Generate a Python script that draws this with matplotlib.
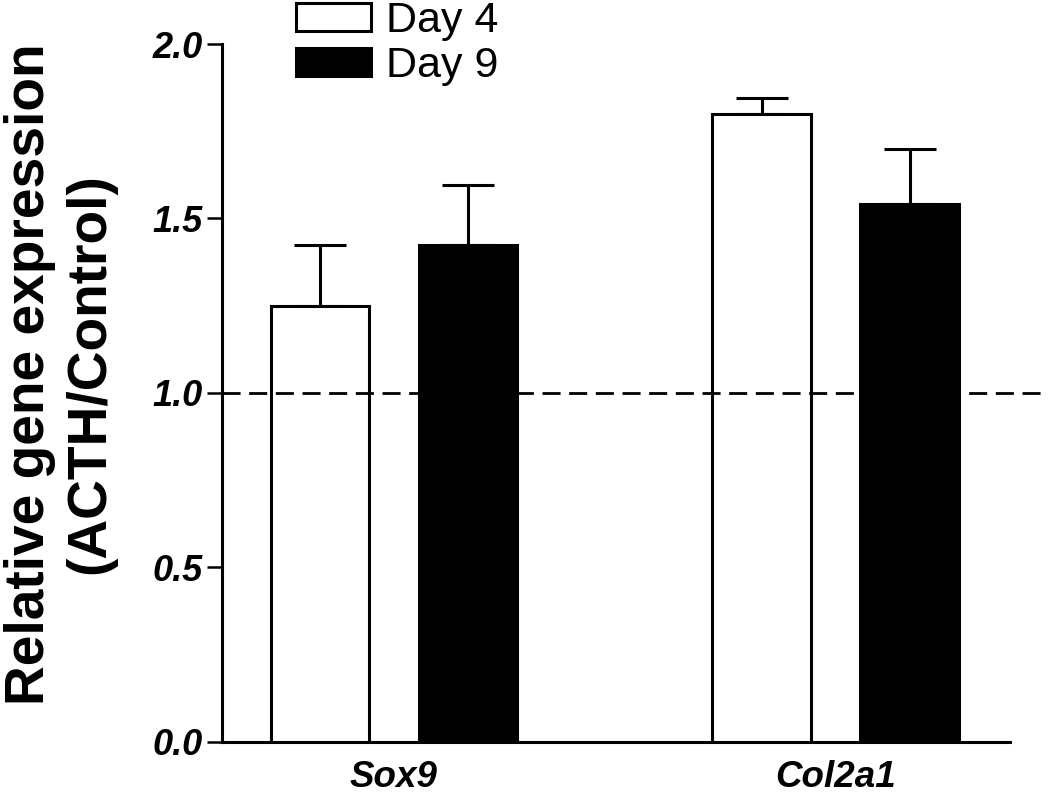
import matplotlib
matplotlib.use("Agg")
import matplotlib.pyplot as plt
import numpy as np

categories = ["Sox9", "Col2a1"]
series_names = ["Day 4", "Day 9"]
day4_values = [1.25, 1.80]
day4_errors = [0.175, 0.045]
day9_values = [1.425, 1.54]
day9_errors = [0.17, 0.16]
y_ticks = [0.0, 0.5, 1.0, 1.5, 2.0]
y_tick_labels = ["0.0", "0.5", "1.0", "1.5", "2.0"]
reference_level = 1.0

plt.rcParams['font.family'] = ['Liberation Sans', 'DejaVu Sans']

fig = plt.figure(figsize=(10.5, 7.93), dpi=100)
ax = fig.add_axes([222/1050, 1-741.7/793, (1010-222)/1050, (741.7-44)/793])

x = np.arange(len(categories))
bw = 0.223
off = 0.1675
lw = 2.2

b1 = ax.bar(x - off, day4_values, bw, color='white', edgecolor='black', linewidth=lw, label=series_names[0], zorder=3)
b2 = ax.bar(x + off, day9_values, bw, color='black', edgecolor='black', linewidth=lw, label=series_names[1], zorder=3)
ax.errorbar(x - off, day4_values, yerr=[np.zeros(len(x)), day4_errors], fmt='none',
            ecolor='black', elinewidth=lw, capsize=18.7, capthick=lw, zorder=2)
ax.errorbar(x + off, day9_values, yerr=[np.zeros(len(x)), day9_errors], fmt='none',
            ecolor='black', elinewidth=lw, capsize=18.7, capthick=lw, zorder=2)

ax.set_xlim(-0.389, 1.395)
ax.set_ylim(0, 2.0)

ax.plot([-0.389, 1.48], [reference_level, reference_level], color='black', lw=2.0,
        dashes=(6.5, 3.1), clip_on=False, zorder=4)

for s in ['top', 'right']:
    ax.spines[s].set_visible(False)
for s in ['left', 'bottom']:
    ax.spines[s].set_linewidth(2.2)

ax.set_yticks(y_ticks)
ax.set_yticklabels(y_tick_labels, fontsize=26, fontweight='bold', fontstyle='italic')
ax.tick_params(axis='y', length=10.8, width=1.8, pad=3)
ax.set_xticks(x)
ax.set_xticklabels(categories, fontsize=26.5, fontweight='bold', fontstyle='italic')
ax.tick_params(axis='x', length=0, pad=13)

fig.text(60/1050, 1-374/793, "Relative gene expression\n(ACTH/Control)", rotation=90,
         ha='center', va='center', multialignment='center', fontsize=39.7,
         fontweight='bold', linespacing=1.22)

leg = fig.legend(handles=[b1, b2], labels=series_names, loc='upper left',
                 bbox_to_anchor=(296/1050, 1-1/793), frameon=False, fontsize=31,
                 handlelength=1.74, handleheight=0.65, handletextpad=0.35,
                 labelspacing=0.12, borderpad=0, borderaxespad=0)

fig.savefig("out.png", dpi=100, facecolor='white')
